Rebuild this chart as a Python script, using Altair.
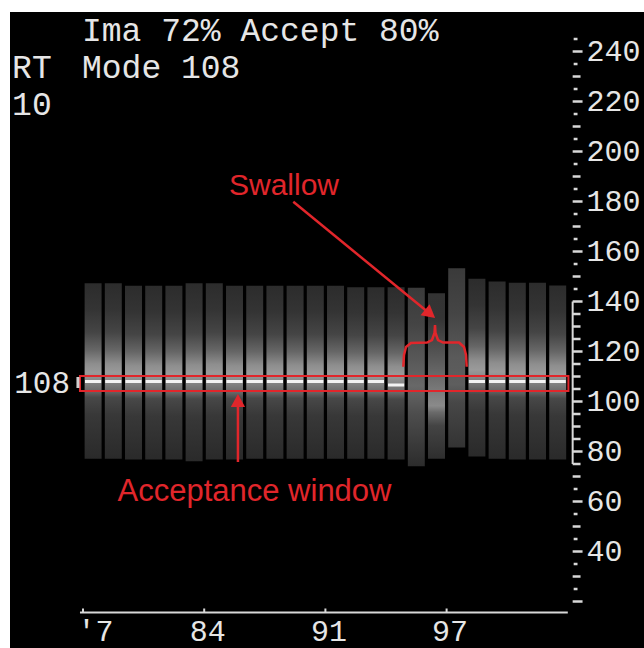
import json
import altair as alt
import pandas as pd

# ---------------- values ----------------
col_index = list(range(24))
col_top = [147.3, 147.3, 146.3, 146.3, 146.3, 147.3, 147.3, 146.3, 146.3, 146.3,
           146.3, 146.3, 146.3, 145.7, 145.7, 145.7, 145.5, 143.3, 153.3, 149.1,
           148.0, 147.5, 147.5, 146.4]
col_bottom = [77.1, 77.1, 76.8, 76.8, 76.8, 76.1, 76.8, 76.8, 77.1, 77.1,
              77.1, 77.1, 77.1, 77.1, 77.1, 76.8, 74.1, 77.1, 81.6, 78.0,
              77.1, 76.8, 76.8, 76.8]
col_kind = ["normal"] * 16 + ["swallow_a", "swallow_b", "swallow_c"] + ["normal"] * 5
dash_level = [108] * 15 + [106.6] + [None, None, None] + [108] * 5

mode_hr = 108
accept_low, accept_high = 104.2, 110.2

y_label_values = list(range(40, 241, 20))
y_tick_values = list(range(20, 246, 5))
spine_low, spine_high = 75, 140

x_tick_cols = [0, 6, 12, 18]
x_tick_labels = ["'7", "84", "91", "97"]

header_texts = ["Ima 72% Accept 80%", "RT", "Mode 108", "10"]

# ---------------- layout (data units: column index / bpm) ----------------
X_DOMAIN = [-3.614, 27.772]
Y_DOMAIN = [1.4, 255.8]
AX_X = 24.24
BASE_Y = 15.6
RED = "#e1262b"
WHITE = "#e6e6e6"
MONO = "Liberation Mono"

xs = alt.Scale(domain=X_DOMAIN, nice=False, zero=False)
ys = alt.Scale(domain=Y_DOMAIN, nice=False, zero=False)

label_expr = " : ".join(
    f"datum.value == {v} ? {json.dumps(t)}" for v, t in zip(x_tick_cols, x_tick_labels)
) + ' : ""'

x_axis = alt.Axis(values=x_tick_cols, labelExpr=label_expr, domain=False, ticks=False,
                  tickSize=0, grid=False, offset=-36, labelPadding=4, labelAlign="left",
                  labelOffset={"condition": {"test": f"datum.value == {x_tick_cols[0]}",
                                             "value": -6}, "value": -15},
                  labelFont=MONO, labelFontSize=30, labelColor=WHITE,
                  labelFlush=False, labelOverlap=False, title=None, zindex=2)
y_axis = alt.Axis(values=y_label_values, orient="right", domain=False, ticks=False,
                  tickSize=0, grid=False, offset=-58, labelPadding=0, labelAlign="left",
                  labelBaseline="middle", labelFont=MONO, labelFontSize=30,
                  labelColor=WHITE, labelFlush=False, labelOverlap=False, title=None,
                  zindex=2)


def X(f):
    return alt.X(f, type="quantitative", scale=xs, axis=x_axis, title=None)


def Y(f):
    return alt.Y(f, type="quantitative", scale=ys, axis=y_axis, title=None)


cols = pd.DataFrame({
    "c": col_index, "top": col_top, "bottom": col_bottom,
    "kind": col_kind, "dash": dash_level,
})
cols["x0"] = cols["c"] + 0.08
cols["x1"] = cols["c"] + 0.92
cols["d0"] = cols["c"] + 0.10
cols["d1"] = cols["c"] + 0.90


def grad(stops):
    return alt.LinearGradient(
        gradient="linear", x1=0, x2=0, y1=0, y2=1,
        stops=[alt.GradientStop(offset=o, color=c) for o, c in stops])


gradients = {
    "normal": grad([(0.0, "#2c2c2c"), (0.15, "#343434"), (0.28, "#454545"),
                    (0.38, "#666666"), (0.46, "#8e8e8e"), (0.51, "#9a9a9a"),
                    (0.55, "#8a8a8a"), (0.61, "#6a6a6a"), (0.65, "#484848"),
                    (0.75, "#383838"), (1.0, "#2a2a2a")]),
    "swallow_a": grad([(0.0, "#3a3a3a"), (0.2, "#444444"), (0.4, "#585858"),
                       (0.55, "#686868"), (0.7, "#4e4e4e"), (1.0, "#2c2c2c")]),
    "swallow_b": grad([(0.0, "#333333"), (0.15, "#343434"), (0.3, "#4a4a4a"),
                       (0.45, "#626262"), (0.6, "#7c7c7c"), (0.68, "#8a8a8a"),
                       (0.72, "#6a6a6a"), (0.8, "#444444"), (1.0, "#2e2e2e")]),
    "swallow_c": grad([(0.0, "#3a3a3a"), (0.25, "#454545"), (0.5, "#5a5a5a"),
                       (0.65, "#5e5e5e"), (0.75, "#474747"), (1.0, "#333333")]),
}

layers = []
for kind, g in gradients.items():
    layers.append(
        alt.Chart(cols).transform_filter(alt.datum.kind == kind)
        .mark_rect(fill=g, strokeWidth=0)
        .encode(x=X("x0:Q"), x2="x1:Q", y=Y("bottom:Q"), y2="top:Q")
    )

# white mode dashes
layers.append(
    alt.Chart(cols).transform_filter("isValid(datum.dash)")
    .mark_rule(color="#f2f2f2", strokeWidth=3)
    .encode(x=X("d0:Q"), x2="d1:Q", y=Y("dash:Q"))
)

# acceptance window
win = pd.DataFrame({"x0": [-0.15], "x1": [24.03], "lo": [accept_low], "hi": [accept_high]})
layers.append(
    alt.Chart(win).mark_rect(fillOpacity=0, stroke=RED, strokeWidth=2)
    .encode(x=X("x0:Q"), x2="x1:Q", y=Y("lo:Q"), y2="hi:Q")
)

# y-axis ticks and spine
tick_rows = []
for v in y_tick_values:
    if v % 20 == 0:
        a, b = AX_X, AX_X + 0.49
    elif (spine_low <= v <= spine_high) or v % 10 == 0:
        a, b = AX_X, AX_X + 0.39
    else:
        a, b = AX_X + 0.05, AX_X + 0.24
    tick_rows.append({"v": v, "a": a, "b": b})
ticks = pd.DataFrame(tick_rows)
layers.append(
    alt.Chart(ticks).mark_rule(color="#d8d8d8", strokeWidth=2.5)
    .encode(x=X("a:Q"), x2="b:Q", y=Y("v:Q"))
)
spine = pd.DataFrame({"x": [AX_X], "lo": [spine_low], "hi": [spine_high]})
layers.append(
    alt.Chart(spine).mark_rule(color="#d8d8d8", strokeWidth=2)
    .encode(x=X("x:Q"), y=Y("lo:Q"), y2="hi:Q")
)

# x-axis base line and ticks
base = pd.DataFrame({"a": [-0.15], "b": [24.0], "y": [BASE_Y]})
layers.append(
    alt.Chart(base).mark_rule(color="#d8d8d8", strokeWidth=2)
    .encode(x=X("a:Q"), x2="b:Q", y=Y("y:Q"))
)
xt = pd.DataFrame({"c": x_tick_cols})
xt["lo"] = BASE_Y
xt["hi"] = BASE_Y + 1.6
layers.append(
    alt.Chart(xt).mark_rule(color="#d8d8d8", strokeWidth=2)
    .encode(x=X("c:Q"), y=Y("lo:Q"), y2="hi:Q")
)

# red arrows (shafts)
shafts = pd.DataFrame({"x0": [10.41, 7.67], "y0": [179.9, 75.8],
                       "x1": [16.98, 7.67], "y1": [136.4, 98.0]})
layers.append(
    alt.Chart(shafts).mark_rule(color=RED, strokeWidth=2.5)
    .encode(x=X("x0:Q"), x2="x1:Q", y=Y("y0:Q"), y2="y1:Q")
)
heads = pd.DataFrame({"x": [17.43, 7.67], "y": [133.4, 103.0], "ang": [129.4, 0.0]})
layers.append(
    alt.Chart(heads).mark_point(shape="M0,0L-0.55,1L0.55,1Z", filled=True, size=676,
                                color=RED, opacity=1, strokeWidth=0)
    .encode(x=X("x:Q"), y=Y("y:Q"), angle=alt.Angle("ang:Q", scale=None))
)

# swallow bracket
br_x = [15.856, 15.891, 15.990, 16.238, 17.030, 17.277, 17.401, 17.426,
        17.450, 17.574, 17.822, 18.614, 18.861, 18.960, 18.995]
br_y = [113.9, 118.6, 121.8, 123.4, 123.6, 124.6, 127.4, 130.6,
        127.4, 124.6, 123.6, 123.6, 121.8, 118.6, 113.9]
bracket = pd.DataFrame({"i": list(range(len(br_x))), "x": br_x, "y": br_y})
layers.append(
    alt.Chart(bracket).mark_line(color=RED, strokeWidth=2.5)
    .encode(x=X("x:Q"), y=Y("y:Q"), order="i:Q")
)

# red labels
red_txt = pd.DataFrame({"t": ["Swallow", "Acceptance window"],
                        "x": [9.95, 8.49], "y": [182.6, 60.2],
                        "fs": [30, 31]})
layers.append(
    alt.Chart(red_txt).mark_text(font="Liberation Sans", color=RED,
                                 align="center", baseline="alphabetic")
    .encode(x=X("x:Q"), y=Y("y:Q"), text="t:N",
            size=alt.Size("fs:Q", scale=None, legend=None))
)

# header texts
hdr = pd.DataFrame({"t": header_texts,
                    "x": [-0.05, -3.51, -0.05, -3.51],
                    "y": [244.2, 229.4, 229.4, 214.6]})
layers.append(
    alt.Chart(hdr).mark_text(font=MONO, fontSize=33, color=WHITE,
                             align="left", baseline="alphabetic")
    .encode(x=X("x:Q"), y=Y("y:Q"), text="t:N")
)

# mode label on the left
mode_lbl = pd.DataFrame({"t": [str(mode_hr)], "x": [-0.64], "y": [103.4]})
layers.append(
    alt.Chart(mode_lbl).mark_text(font=MONO, fontSize=31, color=WHITE,
                                  align="right", baseline="alphabetic")
    .encode(x=X("x:Q"), y=Y("y:Q"), text="t:N")
)
mark_l = pd.DataFrame({"x": [-0.25], "lo": [105.4], "hi": [109.8]})
layers.append(
    alt.Chart(mark_l).mark_rule(color="#cfcfcf", strokeWidth=3)
    .encode(x=X("x:Q"), y=Y("lo:Q"), y2="hi:Q")
)

chart = alt.layer(*layers).properties(
    width=634, height=636,
    autosize=alt.AutoSizeParams(type="none"),
    padding={"left": 10, "top": 12, "right": 0, "bottom": 0},
    background="white",
).configure_view(fill="black", strokeWidth=0)

chart.save("out.html", embed_options={"renderer": "svg", "actions": False})
